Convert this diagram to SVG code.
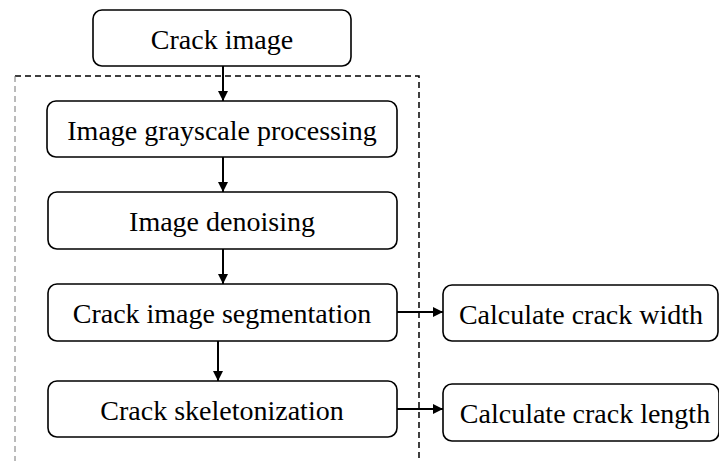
<svg xmlns="http://www.w3.org/2000/svg" width="719" height="461" viewBox="0 0 719 461">
<style>
.box{fill:#fff;stroke:#000;stroke-width:1.6}
.t{font-family:"Liberation Serif","Times New Roman",serif;font-size:28px;fill:#000;text-anchor:middle}
.c{stroke:#000;stroke-width:2;fill:none}
.d{stroke:#000;stroke-width:1.5;fill:none;stroke-dasharray:6 4}
</style>
<defs>
<marker id="ah" viewBox="0 0 10 10" refX="10" refY="5" markerWidth="5" markerHeight="5" orient="auto" markerUnits="strokeWidth">
<path d="M0,0 L10,5 L0,10 Z" fill="#000"/>
</marker>
</defs>
<rect width="719" height="461" fill="#fff"/>
<g id="frame">
<path class="d" d="M15,76 H419 V461"/>
<path d="M15,76 V461" stroke="#777" stroke-width="1" stroke-dasharray="6 4" fill="none"/>
</g>
<g id="connectors">
<line class="c" x1="223" y1="66" x2="223" y2="101" marker-end="url(#ah)"/>
<line class="c" x1="223" y1="157" x2="223" y2="192" marker-end="url(#ah)"/>
<line class="c" x1="223" y1="249" x2="223" y2="284" marker-end="url(#ah)"/>
<line class="c" x1="218" y1="341" x2="218" y2="381" marker-end="url(#ah)"/>
<line class="c" x1="397" y1="312" x2="443" y2="312" marker-end="url(#ah)"/>
<line class="c" x1="397" y1="409" x2="443" y2="409" marker-end="url(#ah)"/>
</g>
<g id="n1"><rect class="box" x="93" y="10" width="258" height="56" rx="9"/><text class="t" x="222" y="49">Crack image</text></g>
<g id="n2"><rect class="box" x="47" y="101" width="350" height="56" rx="9"/><text class="t" x="222" y="140">Image grayscale processing</text></g>
<g id="n3"><rect class="box" x="48" y="192" width="349" height="57" rx="9"/><text class="t" x="222" y="231">Image denoising</text></g>
<g id="n4"><rect class="box" x="48" y="284" width="349" height="57" rx="9"/><text class="t" x="222" y="323">Crack image segmentation</text></g>
<g id="n5"><rect class="box" x="48" y="381" width="349" height="56" rx="9"/><text class="t" x="222" y="420">Crack skeletonization</text></g>
<g id="n6"><rect class="box" x="443" y="285" width="275" height="56" rx="9"/><text class="t" x="581" y="324">Calculate crack width</text></g>
<g id="n7"><rect class="box" x="443" y="384" width="276" height="57" rx="9"/><text class="t" x="585" y="423">Calculate crack length</text></g>
</svg>
